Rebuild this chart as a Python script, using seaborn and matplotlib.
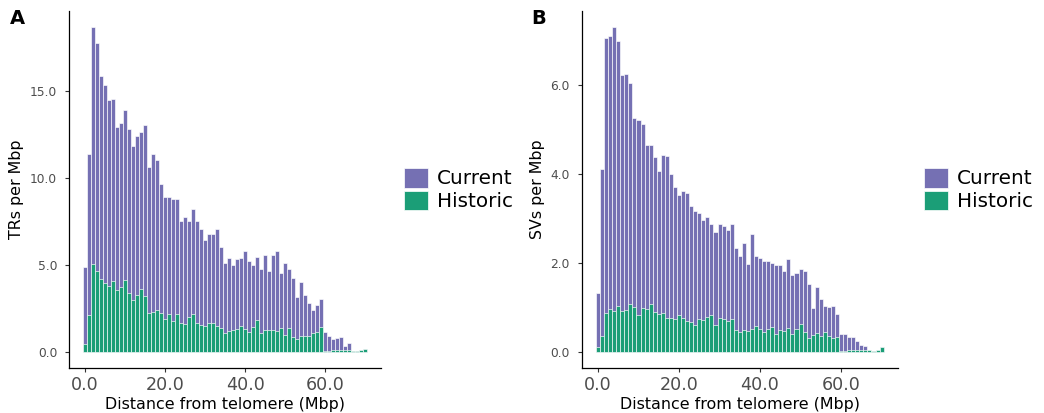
import numpy as np
import pandas as pd
import matplotlib
matplotlib.use("Agg")
import matplotlib.pyplot as plt
import seaborn as sns
from matplotlib.patches import Patch

# ---------------- data ----------------
distance_mbp = list(range(0, 71))

# Panel A: TRs per Mbp  (top of stacked bar = Current + Historic)
tr_stack_top = [4.87, 11.38, 18.7, 17.8, 15.9, 15.35, 14.5, 14.56, 12.98, 13.2,
                13.94, 12.85, 11.83, 12.46, 12.65, 13.08, 10.63, 11.38, 11.06, 9.67,
                8.9, 8.9, 8.79, 8.79, 7.56, 7.75, 7.54, 8.21, 7.56, 7.1,
                6.44, 6.79, 6.79, 7.1, 6.06, 5.1, 5.42, 5.0, 5.37, 5.4,
                5.8, 5.21, 5.0, 5.48, 4.75, 5.6, 4.67, 5.56, 5.79, 4.56,
                5.1, 4.75, 4.25, 3.13, 4.04, 3.25, 2.79, 2.4, 2.67, 3.06,
                1.15, 0.9, 0.75, 0.79, 0.83, 0.33, 0.48, 0.06, 0.06, 0.13, 0.17]
tr_historic = [0.45, 2.1, 5.08, 4.68, 4.17, 3.99, 3.77, 4.08, 3.58, 3.75,
               4.13, 3.37, 2.96, 3.28, 3.6, 3.2, 2.25, 2.3, 2.38, 2.22,
               1.87, 2.2, 1.79, 2.18, 1.67, 1.62, 1.99, 2.2, 1.65, 1.54,
               1.48, 1.68, 1.63, 1.46, 1.39, 1.1, 1.2, 1.27, 1.29, 1.49,
               1.29, 1.15, 1.4, 1.85, 1.1, 1.27, 1.27, 1.25, 1.21, 1.36,
               0.95, 1.35, 0.83, 0.71, 0.9, 0.92, 0.9, 1.06, 1.14, 1.4,
               0.07, 0.05, 0.1, 0.1, 0.12, 0.1, 0.1, 0.06, 0.06, 0.13, 0.17]

# Panel B: SVs per Mbp
sv_stack_top = [1.33, 4.1, 7.04, 7.09, 7.29, 6.98, 6.22, 6.23, 6.04, 5.24,
                5.21, 5.12, 4.64, 4.64, 4.38, 4.06, 4.42, 4.4, 3.99, 3.69,
                3.52, 3.62, 3.56, 3.27, 3.17, 3.12, 2.96, 3.02, 2.88, 2.7,
                2.87, 2.82, 2.73, 2.86, 2.34, 2.16, 2.45, 1.98, 2.64, 2.16,
                2.11, 2.03, 2.05, 1.99, 1.96, 1.96, 1.82, 2.09, 1.72, 1.76,
                1.87, 1.81, 1.52, 0.98, 1.45, 1.19, 1.03, 1.01, 1.03, 0.84,
                0.41, 0.4, 0.34, 0.34, 0.25, 0.15, 0.13, 0.05, 0.02, 0.05, 0.1]
sv_historic = [0.1, 0.35, 0.86, 0.95, 0.91, 1.03, 0.91, 0.94, 1.07, 1.01,
               0.82, 0.98, 0.95, 1.07, 0.9, 0.84, 0.88, 0.75, 0.75, 0.73,
               0.82, 0.75, 0.7, 0.67, 0.6, 0.73, 0.71, 0.79, 0.82, 0.6,
               0.76, 0.73, 0.7, 0.73, 0.5, 0.44, 0.49, 0.46, 0.52, 0.58,
               0.52, 0.45, 0.52, 0.56, 0.41, 0.49, 0.47, 0.53, 0.41, 0.52,
               0.62, 0.45, 0.3, 0.37, 0.43, 0.35, 0.45, 0.35, 0.32, 0.34,
               0.02, 0.02, 0.04, 0.04, 0.05, 0.05, 0.05, 0.05, 0.02, 0.05, 0.1]

series_labels = ["Current", "Historic"]
series_colors = ["#7570B3", "#1B9E77"]
x_ticks = [0, 20, 40, 60]
x_tick_labels = ["0.0", "20.0", "40.0", "60.0"]
a_y_ticks = [0, 5, 10, 15]
a_y_tick_labels = ["0.0", "5.0", "10.0", "15.0"]
b_y_ticks = [0, 2, 4, 6]
b_y_tick_labels = ["0.0", "2.0", "4.0", "6.0"]

# ---------------- styling ----------------
sns.set_theme(style="ticks")
plt.rcParams["font.family"] = ["DejaVu Sans"]
plt.rcParams["text.color"] = "black"
plt.rcParams["axes.labelcolor"] = "black"

W, H = 1044, 413
fig = plt.figure(figsize=(W / 100, H / 100), dpi=100)
axA = fig.add_axes([69 / W, 45 / H, 312.4 / W, 357 / H])
axB = fig.add_axes([581.6 / W, 45 / H, 316.4 / W, 357 / H])


def draw_panel(ax, top, hist, ylabel, yticks, yticklabels, legend_x):
    df = pd.DataFrame({"distance": distance_mbp, "top": top, "historic": hist})
    sns.histplot(data=df, x="distance", weights="top", discrete=True,
                 color=series_colors[0], alpha=1, edgecolor="white",
                 linewidth=0.45, ax=ax)
    sns.histplot(data=df, x="distance", weights="historic", discrete=True,
                 color=series_colors[1], alpha=1, edgecolor="white",
                 linewidth=0.45, ax=ax)
    ymax = max(top)
    ax.set_xlim(-0.5 - 0.05 * 71, 70.5 + 0.05 * 71)
    ax.set_ylim(-0.05 * ymax, ymax * 1.05)
    ax.set_xticks(x_ticks)
    ax.set_xticklabels(x_tick_labels)
    ax.set_yticks(yticks)
    ax.set_yticklabels(yticklabels)
    ax.tick_params(axis="x", labelsize=12.6, length=3, width=0.8,
                   color="#333333", labelcolor="#4D4D4D", pad=3)
    ax.tick_params(axis="y", labelsize=8.8, length=3, width=0.8,
                   color="#333333", labelcolor="#4D4D4D", pad=5.5)
    ax.set_xlabel("Distance from telomere (Mbp)", fontsize=11.4,
                  labelpad=2, color="black")
    ax.set_ylabel(ylabel, fontsize=11.4, labelpad=4, color="black")
    for s in ["top", "right"]:
        ax.spines[s].set_visible(False)
    for s in ["left", "bottom"]:
        ax.spines[s].set_color("black")
        ax.spines[s].set_linewidth(0.9)
    ax.grid(False)
    handles = [Patch(facecolor=c, edgecolor="white", linewidth=0.5)
               for c in series_colors]
    leg = fig.legend(handles, series_labels, loc="center left",
                     bbox_to_anchor=(legend_x / W, 1 - 189.5 / H),
                     frameon=False, fontsize=14.4, handlelength=1.2,
                     handleheight=1.15, labelspacing=0.1, handletextpad=0.45,
                     borderpad=0, borderaxespad=0)
    for t in leg.get_texts():
        t.set_color("black")


draw_panel(axA, tr_stack_top, tr_historic, "TRs per Mbp",
           a_y_ticks, a_y_tick_labels, 404)
draw_panel(axB, sv_stack_top, sv_historic, "SVs per Mbp",
           b_y_ticks, b_y_tick_labels, 924)

fig.text(10 / W, 1 - 19 / H, "A", fontsize=14, fontweight="bold",
         va="center", ha="left", color="black")
fig.text(531 / W, 1 - 19 / H, "B", fontsize=14, fontweight="bold",
         va="center", ha="left", color="black")

fig.savefig("out.png", dpi=100)
